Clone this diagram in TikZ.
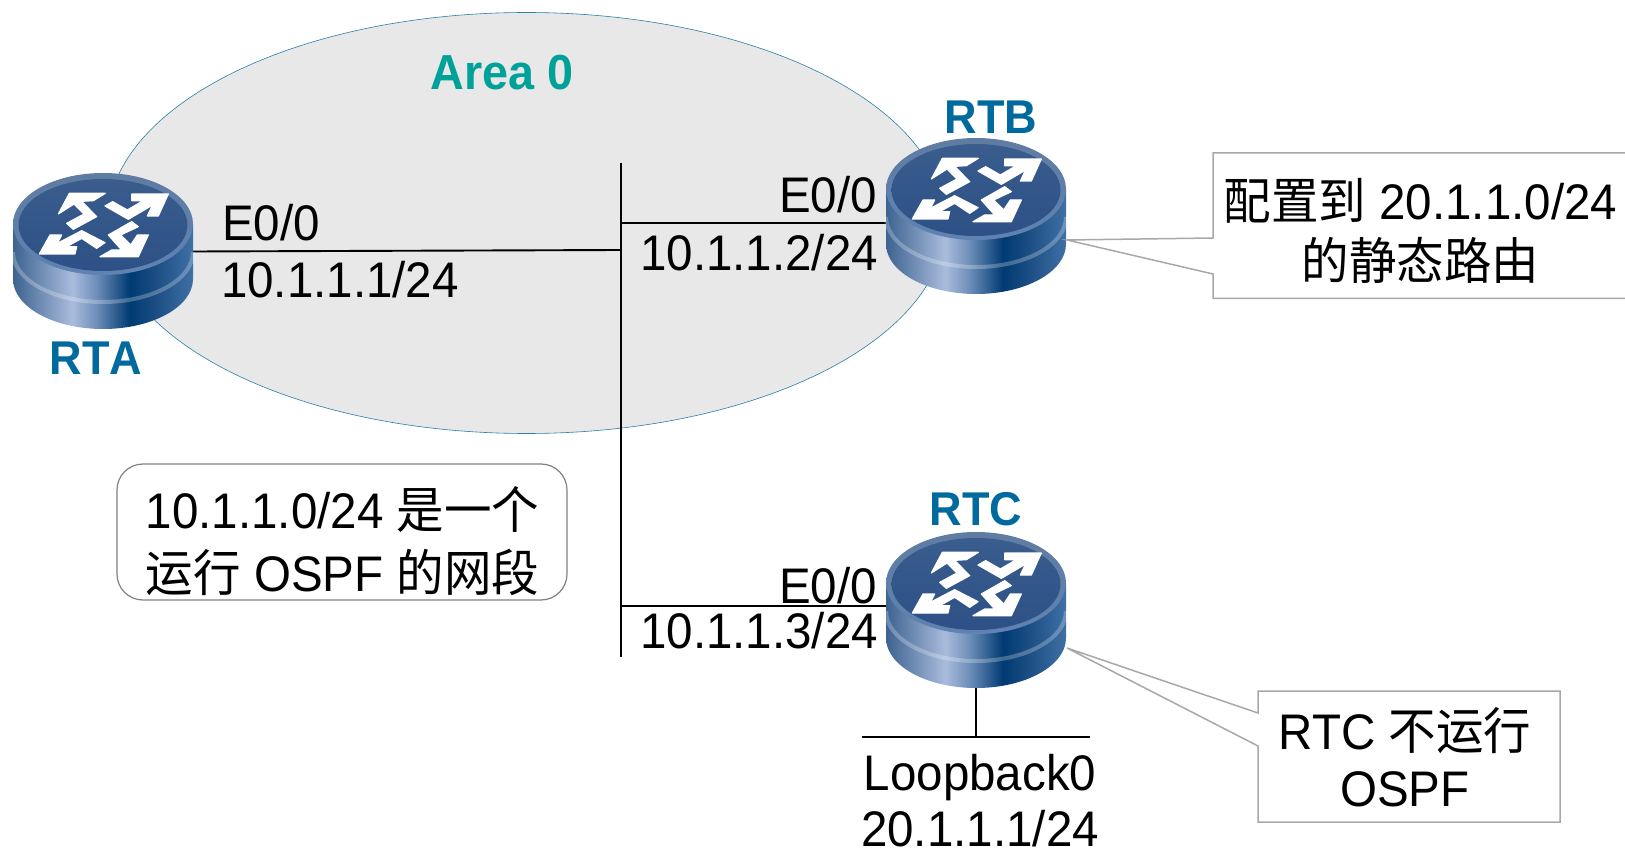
\documentclass[tikz,border=0pt]{standalone}
\usepackage{fontspec}
\usetikzlibrary{shapes.geometric}
\setmainfont[FakeStretch=0.95]{Liberation Sans}
\newfontfamily\cjk[FakeStretch=0.95]{Noto Sans CJK SC}
\newfontfamily\namefont[UprightFont=* Bold,Kerning=Off,FakeStretch=0.95]{Liberation Sans}
\definecolor{areafill}{HTML}{E8E8E8}
\definecolor{areaedge}{HTML}{2A7FA8}
\definecolor{teal0}{HTML}{00A199}
\definecolor{rnamec}{HTML}{006A9F}
\definecolor{calloutedge}{HTML}{A8A8A8}
\definecolor{noteedge}{HTML}{808080}
\definecolor{rb0}{HTML}{3D6390}
\definecolor{rb1}{HTML}{A9BCDC}
\definecolor{rb2}{HTML}{6F8FBA}
\definecolor{rb3}{HTML}{003A72}
\definecolor{rb4}{HTML}{1D4F84}
\definecolor{rb5}{HTML}{3F70A6}
\definecolor{rimtop}{HTML}{5F7CA2}
\definecolor{rimbot}{HTML}{5F82B2}
\definecolor{disktop}{HTML}{3A5D8E}
\definecolor{diskmid}{HTML}{4A6C9B}
\definecolor{diskbot}{HTML}{2D5086}
\pgfdeclarehorizontalshading{routerbody}{100bp}{color(0bp)=(rb0); color(25bp)=(rb0); color(41.5bp)=(rb1); color(48bp)=(rb2); color(57.5bp)=(rb3); color(65bp)=(rb4); color(75bp)=(rb5); color(100bp)=(rb5)}
\tikzset{
  routerbox/.style={minimum width=180pt,minimum height=156pt,inner sep=0pt,outer sep=0pt},
  wire/.style={draw=black,line width=1.9pt},
  lbl/.style={font=\fontsize{50}{56}\selectfont,inner sep=0pt,outer sep=0pt,text=black},
  multi/.style={lbl,align=center,font=\fontsize{50}{#1}\selectfont},
  rnamest/.style={font=\fontsize{47.4}{50}\namefont,text=rnamec,inner sep=0pt,anchor=base},
  calloutshape/.style={draw=calloutedge,fill=white,line width=1.5pt},
  notebox/.style={draw=noteedge,line width=1.2pt,rounded corners=26pt,minimum width=450pt,minimum height=136pt,inner sep=0pt},
  router/.pic={
    \path[shading=routerbody] (-90,0) -- (-90,55)
      .. controls (-90,82.6) and (-49.7,105) .. (0,105)
      .. controls (49.7,105) and (90,82.6) .. (90,55) -- (90,0) -- cycle;
    \draw[line width=4pt,draw=white,draw opacity=.25] (-90,28)
      .. controls (-90,55.6) and (-49.7,78) .. (0,78)
      .. controls (49.7,78) and (90,55.6) .. (90,28);
    \path[top color=rimtop,bottom color=rimbot] (0,0) ellipse [x radius=90,y radius=51];
    \path[top color=disktop,middle color=diskmid,bottom color=diskbot] (0,1) ellipse [x radius=84.5,y radius=46];
    \begin{scope}[x=.3333pt,y=-.3333pt,shift={(-219,-132)}]
      \filldraw[white,line width=1.2pt,line join=round] (118,40)--(226,40)--(190,62)--(155,64)--(200,110)--(130,148)--(110,130)--(162,102)--(132,72)--(85,102)--cycle;
      \filldraw[white,line width=1.2pt,line join=round] (415,42)--(385,108)--(352,108)--(368,75)--(295,118)--(225,78)--(248,65)--(292,90)--(340,62)--(305,62)--(305,42)--cycle;
      \filldraw[white,line width=1.2pt,line join=round] (28,222)--(60,165)--(95,165)--(82,190)--(155,152)--(225,188)--(200,205)--(155,175)--(110,200)--(140,200)--(135,222)--cycle;
      \filldraw[white,line width=1.2pt,line join=round] (325,230)--(210,230)--(245,210)--(275,210)--(235,165)--(305,125)--(325,140)--(272,165)--(302,195)--(322,165)--(355,165)--cycle;
    \end{scope}
  }
}
\begin{document}
\begin{tikzpicture}[x=1pt,y=-1pt]
\useasboundingbox (0,0) rectangle (1625,850);
% area
\node[draw=areaedge,fill=areafill,line width=.6pt,shape=ellipse,inner sep=0pt,minimum width=838pt,minimum height=421pt] (area) at (526.5,223) {};
\node[font=\fontsize{49.2}{56}\namefont,text=teal0,inner sep=0pt,anchor=base] (areal) at (502,90) {Area 0};
% named points
\node[routerbox] (rta) at (103,251.5) {};
\node[routerbox] (rtb) at (976,216) {};
\node[routerbox] (rtc) at (976,610) {};
\coordinate (bustop) at (621,163);
\coordinate (busbot) at (621,657);
\coordinate (busa) at (621,250);
\coordinate (busb) at (621,223);
\coordinate (busc) at (621,606);
\coordinate (lbm) at (976,737);
\coordinate (lbl) at (862,737);
\coordinate (lbr) at (1090,737);
% wires
\draw[wire] (bustop) -- (busbot);
\draw[wire] (rta.east) -- (busa);
\draw[wire] (busb) -- (busb -| rtb.west);
\draw[wire] (busc) -- (busc -| rtc.west);
\draw[wire] (rtc.south) -- (lbm);
\draw[wire] (lbl) -- (lbr);
% routers
\pic at (103,224) {router};
\pic at (976,189) {router};
\pic at (976,583) {router};
\node[rnamest] (rtan) at (96,374) {RTA};
\node[rnamest] (rtbn) at (991,134) {RTB};
\node[rnamest] (rtcn) at (976,525) {RTC};
% interface labels
\node[lbl,anchor=base west] (a1) at (222,241) {E0/0};
\node[lbl,anchor=base west] (a2) at (221,298) {10.1.1.1/24};
\node[lbl,anchor=base east] (b1) at (877,213) {E0/0};
\node[lbl,anchor=base east] (b2) at (878,271) {10.1.1.2/24};
\node[lbl,anchor=base east] (c1) at (877,603) {E0/0};
\node[lbl,anchor=base east] (c2) at (878,648) {10.1.1.3/24};
\node[multi=56pt] (lbtext) at (980,801) {Loopback0\\20.1.1.1/24};
% note
\node[notebox] (note) at (342,532) {};
\node[multi=63pt] (notetext) at (342.5,541) {10.1.1.0/24 {\cjk 是一个}\\{\cjk 运行} OSPF {\cjk 的网段}};
% callouts
\coordinate (tipb) at (1067,240);
\coordinate (tipc) at (1067,648);
\draw[calloutshape] (1213,153) -- (1626,153) -- (1626,298.5) -- (1213,298.5) -- (1213,274) -- (tipb) -- (1213,238) -- cycle;
\draw[calloutshape] (1258,691) -- (1560,691) -- (1560,822) -- (1258,822) -- (1258,746) -- (tipc) -- (1258,713) -- cycle;
\node[multi=60pt] (cbtext) at (1420.5,231) {{\cjk 配置到} 20.1.1.0/24\\{\cjk 的静态路由}};
\node[multi=57pt] (cctext) at (1405,757) {RTC {\cjk 不运行}\\OSPF};
\end{tikzpicture}
\end{document}
